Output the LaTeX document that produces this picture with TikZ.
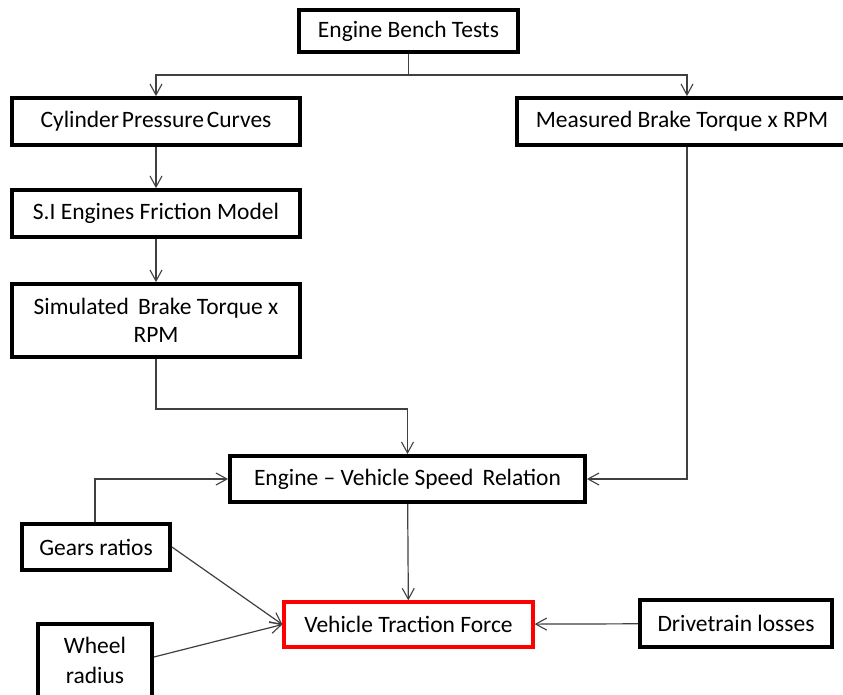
\documentclass[tikz,border=0pt]{standalone}
\usepackage{fontspec}
\setmainfont{Carlito}
\usetikzlibrary{arrows.meta}
\begin{document}
\begin{tikzpicture}[x=1pt,y=-1pt,
  blk/.style={draw=black,line width=3.8pt,fill=white,inner sep=0pt,font=\fontsize{23.5}{28}\selectfont,align=center},
  hot/.style={blk,draw=red,line width=3.2pt},
  flow/.style={draw=black!75,line width=1.2pt,-{Straight Barb[length=11pt,width=12pt,line width=1.1pt]}}]
\useasboundingbox (0,0) rectangle (843,695);
\fill[white] (0,0) rectangle (843,695);
% boxes, placed by their centres
\node[blk,minimum width=219pt,minimum height=42pt] (ebt) at (408.5,31) {Engine Bench Tests};
\node[blk,minimum width=288pt,minimum height=47pt] (cpc) at (156,121.5) {Cylinder\hspace{0.12em}Pressure\hspace{0.12em}Curves};
\node[blk,minimum width=330pt,minimum height=47pt] (mbt) at (682,121.5) {Measured Brake Torque x RPM};
\node[blk,minimum width=288pt,minimum height=47pt] (sif) at (156,213.5) {S.I Engines Friction Model};
\node[blk,minimum width=288pt,minimum height=73pt] (sbt) at (156,320.5) {Simulated\, Brake Torque x\\RPM};
\node[blk,minimum width=355pt,minimum height=46pt] (evs) at (407.5,479) {Engine -- Vehicle Speed\, Relation};
\node[blk,minimum width=148pt,minimum height=46pt] (gr) at (96,547) {Gears ratios};
\node[hot,minimum width=249pt,minimum height=45pt] (vtf) at (408.5,624.5) {Vehicle Traction Force};
\node[blk,minimum width=192pt,minimum height=47pt] (dl) at (736,623.5) {Drivetrain losses};
\node[blk,minimum width=114pt,minimum height=100pt,anchor=north] (wr) at (95,622) {};
\node[font=\fontsize{23.5}{30}\selectfont,align=center] (wrt) at (95,660) {Wheel\\radius};
% connectors
\coordinate (split) at (408.5,75);
\draw[draw=black!75,line width=1.2pt] (ebt.south) -- (split);
\draw[flow] (split) -| (cpc.north);
\draw[flow] (split) -| (mbt.north -| 687,0);
\draw[flow] (cpc) -- (sif);
\draw[flow] (sif) -- (sbt);
\draw[flow] (sbt.south) -- ++(0,50) -| (evs.north);
\draw[flow] (mbt.south -| 687,0) |- (evs.east);
\draw[flow] (gr.north -| 95,0) |- (evs.west);
\draw[flow] (evs) -- (vtf);
\draw[flow] (gr.east) -- (vtf.west);
\draw[flow] (wr.east |- 0,657) -- (vtf.west);
\draw[flow] (dl) -- (vtf);
\end{tikzpicture}
\end{document}
